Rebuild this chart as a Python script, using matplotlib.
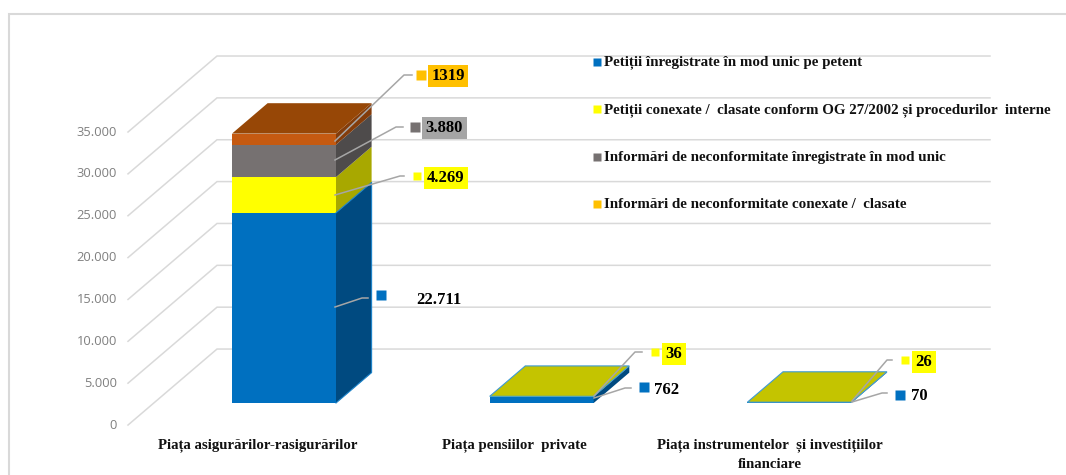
import matplotlib
matplotlib.use("Agg")
import matplotlib.pyplot as plt
from matplotlib.patches import Polygon

categories = ["Piața asigurărilor-rasigurărilor", "Piața pensiilor  private",
              "Piața instrumentelor  și investițiilor\nfinanciare"]
series_names = ["Petiții înregistrate în mod unic pe petent",
                "Petiții conexate /  clasate conform OG 27/2002 și procedurilor  interne",
                "Informări de neconformitate înregistrate în mod unic",
                "Informări de neconformitate conexate /  clasate"]
petitii_unic = [22711, 762, 70]
petitii_conexate = [4269, 36, 26]
informari_unic = [3880, 0, 0]
informari_conexate = [1319, 0, 0]
y_ticks = [0, 5000, 10000, 15000, 20000, 25000, 30000, 35000]
y_ticklabels = ["0", "5.000", "10.000", "15.000", "20.000", "25.000", "30.000", "35.000"]

W, H = 1066, 475
PX_X = 257.7                # pixels per category step
PX_V = 41.86 / 5000         # pixels per value unit
X0_PX, V0_PX = 284.0, 403.0 # pixel of first bar centre / value 0 at bar front

fig = plt.figure(figsize=(W / 100, H / 100), dpi=100, facecolor="white")
ax = fig.add_axes([0, 0, 1, 1])
ax.set_xlim(-X0_PX / PX_X, (W - X0_PX) / PX_X)
ax.set_ylim(-(H - V0_PX) / PX_V, V0_PX / PX_V)
ax.axis("off")

# oblique depth: axis depth 0 = floor front, 1 = back wall
DEPTH_DX = 89 / PX_X
DEPTH_DV = 76 / PX_V
BAR_D0, BAR_D1 = 0.29, 0.69
BAR_W = 104 / PX_X


def P(x, v, d):
    """Project (category x, value v, depth d) to the axes data plane."""
    return (x + (d - BAR_D0) * DEPTH_DX, v + (d - BAR_D0) * DEPTH_DV)


def px(xp, yp):
    """Annotation anchor from figure pixels to data units."""
    return ((xp - X0_PX) / PX_X, (V0_PX - yp) / PX_V)


FLOOR_LEFT = (128 - X0_PX) / PX_X + BAR_D0 * DEPTH_DX
GRID_RIGHT = (990 - X0_PX) / PX_X - (1 - BAR_D0) * DEPTH_DX

# frame: left and top only, running off the right and bottom edges
ax.plot(*zip(px(9, 475), px(9, 13.5), px(1066, 13.5)), color="#d9d9d9", lw=1.5, zorder=0,
        solid_joinstyle="miter")

# grid
for v, lab in zip(y_ticks, y_ticklabels):
    x0, y0 = P(FLOOR_LEFT, v, 0)
    x1, y1 = P(FLOOR_LEFT, v, 1)
    x2, y2 = P(GRID_RIGHT, v, 1)
    ax.plot([x0, x1, x2], [y0, y1, y2], color="#d9d9d9", lw=1.1, zorder=1,
            solid_joinstyle="miter")
    ax.text(x0 - 11 / PX_X, y0, lab, ha="right", va="center", color="#7f7f7f",
            fontsize=9.3, family="Open Sans", zorder=2)

front_cols = ["#0070c0", "#ffff00", "#767171", "#c55a11"]
side_cols = ["#004a80", "#a8a800", "#4e4b4b", "#833c0b"]
top_cols = ["#0070c0", "#c4c400", "#767171", "#974706"]
stacks = [petitii_unic, petitii_conexate, informari_unic, informari_conexate]

for i in range(len(categories)):
    base = 0
    xl, xr = i - BAR_W / 2, i + BAR_W / 2
    last = None
    for k, s in enumerate(stacks):
        val = s[i]
        if val <= 0:
            continue
        top = base + val
        ax.add_patch(Polygon([P(xl, base, BAR_D0), P(xr, base, BAR_D0), P(xr, top, BAR_D0), P(xl, top, BAR_D0)],
                             fc=front_cols[k], ec="none", zorder=3))
        ax.add_patch(Polygon([P(xr, base, BAR_D0), P(xr, base, BAR_D1), P(xr, top, BAR_D1), P(xr, top, BAR_D0)],
                             fc=side_cols[k], ec="none", zorder=3))
        base = top
        last = k
    # top face; olive for small bars, outlined in blue
    edge = "#3d9ad6" if i > 0 else "none"
    ax.add_patch(Polygon([P(xl, base, BAR_D0), P(xr, base, BAR_D0), P(xr, base, BAR_D1), P(xl, base, BAR_D1)],
                         fc=top_cols[last], ec=edge, lw=0.8, zorder=4))

# blue edge highlight on big bar's side
ax.plot(*zip(P(BAR_W / 2, 0, BAR_D0), P(BAR_W / 2, 0, BAR_D1), P(BAR_W / 2, petitii_unic[0], BAR_D1),
             P(BAR_W / 2, petitii_unic[0], BAR_D0)), color="#1c82c8", lw=0.8, zorder=4)

# data labels: (value text, marker colour, box colour, anchor, knee, end, marker, text)
labels = [
    ("1319", "#ffc000", "#ffc000", (335, 141), (404, 75), (412, 75), (421, 75), (448, 76)),
    ("3.880", "#767171", "#a5a5a5", (335, 160), (396, 127), (403, 127), (415, 127), (444.5, 128)),
    ("4.269", "#ffff00", "#ffff00", (335, 195), (400, 176), (404, 176), (417, 176), (446, 178)),
    ("22.711", "#0070c0", None, (335, 307), (362, 298), (368, 298), (381, 295), (438.5, 300)),
    ("36", "#ffff00", "#ffff00", (594, 396), (635, 352), (642, 352), (655, 352), (674, 354)),
    ("762", "#0070c0", None, (594, 398), (625, 388), (631, 388), (644, 387), (666.5, 390)),
    ("26", "#ffff00", "#ffff00", (852, 401), (887, 360), (892, 360), (905, 360), (924, 362)),
    ("70", "#0070c0", None, (852, 402), (882, 393), (887, 393), (900, 395), (919.5, 396.5)),
]
for txt, mc, bc, a, kn, e, m, t in labels:
    pts = [px(*a), px(*kn), px(*e)]
    ax.plot(*zip(*pts), color="#a6a6a6", lw=1.1, zorder=5)
    ax.plot(*px(*m), "s", color=mc, ms=6.5 if mc != "#ffff00" else 6, mec="none", zorder=6)
    bbox = dict(boxstyle="square,pad=0.2", fc=bc, ec="none") if bc else None
    ax.text(*px(*t), txt, ha="center", va="center", fontsize=12, fontweight="bold",
            family="Liberation Serif", color="black", bbox=bbox, zorder=6)

# category labels
for i, c in enumerate(categories):
    centre_px = [258, 514, 770][i]
    ax.text((centre_px - X0_PX) / PX_X, (V0_PX - 438.5) / PX_V, c, ha="center", va="top",
            fontsize=10.75, fontweight="bold", family="Liberation Serif", linespacing=1.62,
            color="#111111", zorder=6)

# legend
leg_y = [62.5, 110, 157.5, 205]
marker_y = [61.5, 109, 156.5, 204]
for name, col, y, my in zip(series_names, front_cols[:3] + ["#ffc000"], leg_y, marker_y):
    ax.plot(*px(597, my), "s", color=col, ms=6.2, mec="none", zorder=6)
    ax.text(*px(604.5, y), name, ha="left", va="center", fontsize=10.85, fontweight="bold",
            family="Liberation Serif", color="#111111", zorder=6)

fig.savefig("out.png", dpi=100, facecolor="white")
